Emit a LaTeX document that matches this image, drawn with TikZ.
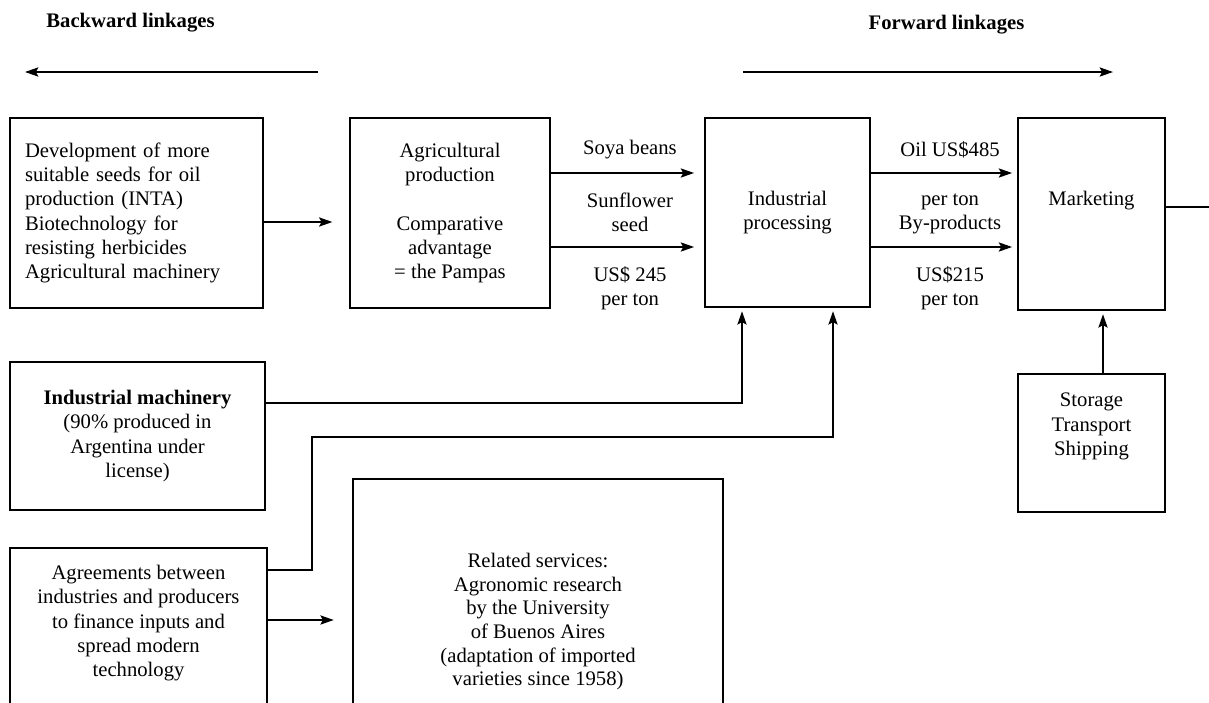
\documentclass[tikz,border=0pt]{standalone}
\usepackage{fontspec}
\setmainfont{Liberation Serif}
\usetikzlibrary{arrows.meta}

\begin{document}
\begin{tikzpicture}
    [x=0.6pt,y=-0.6pt,>={Stealth[length=8pt,width=5.5pt,inset=1.5pt]},
    font=\fontsize{12.4}{14.6}\selectfont,
    box/.style={draw,rectangle,line width=1.1pt,inner sep=0pt,align=center},
    link/.style={->,line width=1.1pt},
    head/.style={font=\fontsize{12.4}{14.6}\selectfont\bfseries},
    lbl/.style={align=center,inner sep=0pt}]

    \useasboundingbox (0,0) rectangle (1209,703);
    \clip (0,0) rectangle (1209,703);

    % linkages
    \node[head] (bwd) at (130.5,23) {Backward linkages};
    \node[head] (fwd) at (946.5,25) {Forward linkages};
    \coordinate (bl1) at (318,72);
    \coordinate (bl2) at (25,72);
    \coordinate (fl1) at (743,72);
    \coordinate (fl2) at (1113,72);
    \draw[link] (bl1) -- (bl2);
    \draw[link] (fl1) -- (fl2);

    % top row
    \node[box,minimum width=151.8pt,minimum height=114pt,text width=133.8pt,align=left] (seeds) at (136.5,213)
        {Development of more\\suitable seeds for oil\\production (INTA)\\Biotechnology for\\resisting herbicides\\Agricultural machinery};
    \node[box,minimum width=120pt,minimum height=114pt] (agri) at (450,213)
        {Agricultural\\production\\[14.6pt]Comparative\\advantage\\= the Pampas};
    \node[box,minimum width=99pt,minimum height=113.4pt] (indus) at (787.5,212.5) {Industrial\\processing};
    \node[box,minimum width=88.2pt,minimum height=115.2pt,text height=8.5pt,text depth=18.3pt] (market) at (1091.5,214) {Marketing};

    % lower boxes
    \node[box,minimum width=153pt,minimum height=88.8pt] (machin) at (137.5,436)
        {\textbf{Industrial machinery}\\(90\% produced in\\Argentina under\\license)};
    \node[box,anchor=north,minimum width=88.2pt,inner ysep=11.6pt,text depth=22pt] (storage) at (1091.5,373)
        {Storage\\Transport\\Shipping};
    \node[box,anchor=north,minimum width=154.2pt,inner ysep=10.4pt,text depth=200pt] (agree) at (138.5,547)
        {Agreements between\\industries and producers\\to finance inputs and\\spread modern\\technology};
    \node[box,anchor=north,minimum width=222pt,inner ysep=44.6pt,text depth=200pt,
        font=\fontsize{12.4}{14.2}\selectfont] (serv) at (538,478)
        {Related services:\\Agronomic research\\by the University\\of Buenos Aires\\(adaptation of imported\\varieties since 1958)};

    % flows
    \coordinate (r0) at (0,222);
    \coordinate (r1) at (0,173);
    \coordinate (r2) at (0,247);
    \coordinate (mout) at (1230,207);
    \draw[link,shorten >=10pt] (seeds.east |- r0) -- (agri.west |- r0);
    \draw[link,shorten >=6pt] (agri.east |- r1) -- (indus.west |- r1);
    \draw[link,shorten >=6pt] (agri.east |- r2) -- (indus.west |- r2);
    \draw[link,shorten >=3pt] (indus.east |- r1) -- (market.west |- r1);
    \draw[link,shorten >=3pt] (indus.east |- r2) -- (market.west |- r2);
    \draw[link] (market.east |- mout) -- (mout);

    \node[lbl] (soya) at (630,150) {Soya beans};
    \node[lbl] (sunfl) at (630,212) {Sunflower\\seed};
    \node[lbl] (price1) at (630,288) {US\$ 245\\per ton};
    \node[lbl] (oil) at (950,150) {Oil US\$485};
    \node[lbl] (byprod) at (950,214) {per ton\\By-products};
    \node[lbl] (price2) at (950,288) {US\$215\\per ton};

    % inputs to processing
    \coordinate (ec) at (742,403);
    \coordinate (gc1) at (312,570);
    \coordinate (gc2) at (833,437);
    \coordinate (gh) at (0,620);
    \coordinate (sd) at (1103,0);
    \draw[link,shorten >=2pt] (machin.east |- ec) -| (indus.south -| ec);
    \draw[link,shorten >=2pt] (agree.east |- gc1) -- (gc1) |- (gc2) -- (indus.south -| gc2);
    \draw[link,shorten >=11pt] (agree.east |- gh) -- (serv.west |- gh);
    \draw[link,shorten >=2pt] (storage.north -| sd) -- (market.south -| sd);
\end{tikzpicture}
\end{document}
